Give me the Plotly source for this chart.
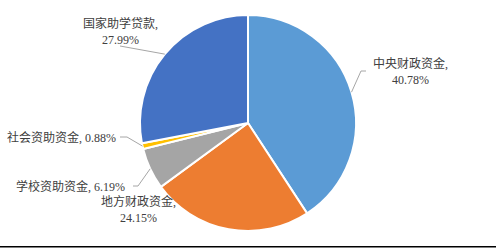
import math
import plotly.graph_objects as go

labels = ["中央财政资金", "地方财政资金", "学校资助资金", "社会资助资金", "国家助学贷款"]
values = [40.78, 24.15, 6.19, 0.88, 27.99]
pct_text = ["40.78%", "24.15%", "6.19%", "0.88%", "27.99%"]
colors = ["#5B9BD5", "#ED7D31", "#A5A5A5", "#FFC000", "#4472C4"]

W, H = 496, 248
CX, CY, R = 248, 123, 108

fig = go.Figure(go.Pie(
    labels=labels, values=values, sort=False, direction="clockwise", rotation=0,
    marker=dict(colors=colors, line=dict(color="white", width=2)),
    textinfo="none", hoverinfo="label+percent",
    domain=dict(x=[(CX - R) / W, (CX + R) / W], y=[(H - CY - R) / H, (H - CY + R) / H]),
))

def px(x, y):
    return x / W, 1 - y / H

# label placement (pixel positions), style
label_cfg = [
    dict(pos=(410, 72), anchor="center", two=True, elbow=[(361, 71), (366, 71)]),
    dict(pos=(138, 209), anchor="center", two=True, elbow=None),
    dict(pos=(127, 186), anchor="right", two=False, elbow=[(138, 186), (133, 186)]),
    dict(pos=(118, 137), anchor="right", two=False, elbow=[(127, 137), (120, 137)]),
    dict(pos=(120, 31), anchor="center", two=True, elbow=[(120, 46)]),
]

total = sum(values)
cum = 0
shapes = []
annotations = []
font = dict(family="Liberation Serif, Noto Sans CJK SC", size=12, color="#404040")
for lab, v, t, cfg in zip(labels, values, pct_text, label_cfg):
    mid = (cum + v / 2) / total * 2 * math.pi
    cum += v
    sx = CX + R * math.sin(mid)
    sy = CY - R * math.cos(mid)
    if cfg["elbow"]:
        pts = [(sx, sy)] + cfg["elbow"]
        for (x0, y0), (x1, y1) in zip(pts[:-1], pts[1:]):
            a0 = px(x0, y0)
            a1 = px(x1, y1)
            shapes.append(dict(type="line", xref="paper", yref="paper",
                               x0=a0[0], y0=a0[1], x1=a1[0], y1=a1[1],
                               line=dict(color="#A6A6A6", width=1)))
    text = f"{lab},<br>{t}" if cfg["two"] else f"{lab}, {t}"
    ax, ay = px(*cfg["pos"])
    annotations.append(dict(x=ax, y=ay, xref="paper", yref="paper", text=text,
                            showarrow=False, xanchor=cfg["anchor"], yanchor="middle",
                            align="center", font=font))

shapes.append(dict(type="line", xref="paper", yref="paper", x0=0, x1=1,
                   y0=1.2 / H, y1=1.2 / H, line=dict(color="black", width=1.5)))

fig.update_layout(
    width=W, height=H, margin=dict(l=0, r=0, t=0, b=0),
    paper_bgcolor="white", plot_bgcolor="white", showlegend=False,
    shapes=shapes, annotations=annotations,
)
fig.write_html("out.html")
